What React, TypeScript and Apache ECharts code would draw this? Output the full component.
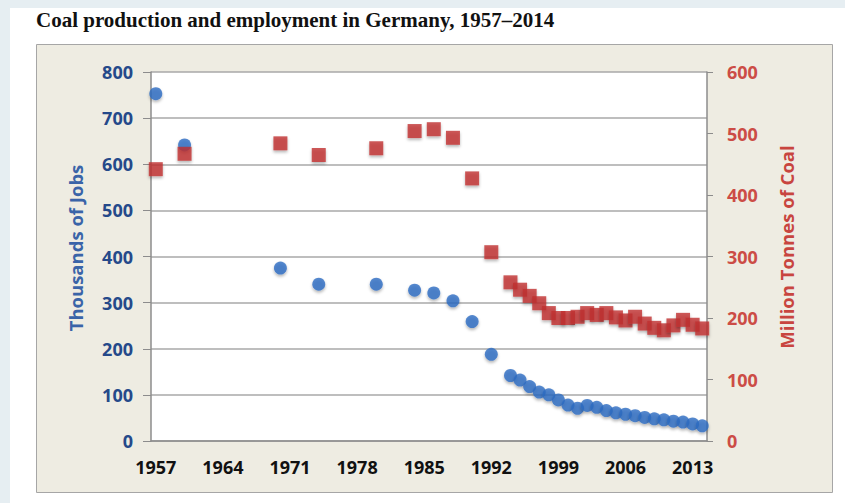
import React, { useEffect, useRef } from "react";
import * as echarts from "echarts";

const firstYear = 1957;
const lastYear = 2014;
const yearLabels: string[] = [];
for (let y = firstYear; y <= lastYear; y++) yearLabels.push(String(y));

const jobYears = [1957, 1960, 1970, 1974, 1980, 1984, 1986, 1988, 1990, 1992, 1994, 1995, 1996, 1997, 1998, 1999, 2000, 2001, 2002, 2003, 2004, 2005, 2006, 2007, 2008, 2009, 2010, 2011, 2012, 2013, 2014];
const jobsThousands = [753, 642, 375, 340, 340, 327, 321, 304, 259, 188, 142, 132, 118, 106, 100, 89, 78, 71, 77, 73, 66, 61, 58, 55, 51, 48, 46, 43, 41, 37, 33];

const coalYears = [1957, 1960, 1970, 1974, 1980, 1984, 1986, 1988, 1990, 1992, 1994, 1995, 1996, 1997, 1998, 1999, 2000, 2001, 2002, 2003, 2004, 2005, 2006, 2007, 2008, 2009, 2010, 2011, 2012, 2013, 2014];
const coalMillionTonnes = [442, 467, 484, 465, 476, 504, 507, 493, 427, 307, 258, 246, 236, 224, 208, 200, 200, 202, 208, 205, 208, 201, 196, 202, 191, 184, 180, 188, 197, 189, 183];

const titleText = "Coal production and employment in Germany, 1957\u20132014";
const leftAxisTitle = "Thousands of Jobs";
const rightAxisTitle = "Million Tonnes of Coal";

export default function App() {
  const ref = useRef<HTMLDivElement>(null);
  useEffect(() => {
    if (!ref.current) return;
    const chart = echarts.init(ref.current, null, { renderer: "svg" });
    const font = "'Open Sans', sans-serif";
    const jobsData = jobYears.map((y, i) => [String(y), jobsThousands[i]]);
    const coalData = coalYears.map((y, i) => [String(y), coalMillionTonnes[i]]);
    chart.setOption({
      animation: false,
      backgroundColor: "#e6eef2",
      textStyle: { fontFamily: font },
      graphic: [
        { type: "rect", z: -10, shape: { x: 10, y: 8, width: 835, height: 495 }, style: { fill: "#ffffff" } },
        { type: "rect", z: -9, shape: { x: 36.5, y: 44.5, width: 796, height: 448 }, style: { fill: "#eeece2", stroke: "#a6a6a6", lineWidth: 1 } },
        {
          type: "text", z: 5, x: 36, y: 20,
          style: { text: titleText, fontFamily: "'Liberation Serif', serif", fontWeight: "bold", fontSize: 21, fill: "#111", textVerticalAlign: "middle" },
        },
        {
          type: "text", z: 5, x: 75, y: 248, rotation: Math.PI / 2,
          style: { text: leftAxisTitle, fontFamily: font, fontWeight: "bold", fontSize: 18.5, fill: "#3a64a8", textAlign: "center", textVerticalAlign: "middle" },
        },
        {
          type: "text", z: 5, x: 786, y: 247, rotation: Math.PI / 2,
          style: { text: rightAxisTitle, fontFamily: font, fontWeight: "bold", fontSize: 18.5, fill: "#c8453f", textAlign: "center", textVerticalAlign: "middle" },
        },
      ],
      grid: { left: 151, right: 138, top: 72, bottom: 62, show: true, backgroundColor: "#ffffff", borderWidth: 0 },
      xAxis: {
        type: "category",
        data: yearLabels,
        boundaryGap: true,
        axisLine: { lineStyle: { color: "#8c8c8c", width: 1.5 } },
        axisTick: { interval: 0, length: 5, lineStyle: { color: "#7a7a7a" } },
        axisLabel: { interval: 6, margin: 17, color: "#111", fontWeight: "bold", fontSize: 18, fontFamily: font },
        splitLine: { show: false },
      },
      yAxis: [
        {
          type: "value", min: 0, max: 800, interval: 100, position: "left",
          axisLine: { show: true, lineStyle: { color: "#8c8c8c", width: 1.5 } },
          axisTick: { show: true, length: 8, lineStyle: { color: "#8c8c8c" } },
          axisLabel: { margin: 18, color: "#25498a", fontWeight: "bold", fontSize: 18, fontFamily: font },
          splitLine: { show: true, lineStyle: { color: "#a8a8a8", width: 1.5 } },
        },
        {
          type: "value", min: 0, max: 600, interval: 100, position: "right",
          axisLine: { show: true, lineStyle: { color: "#8c8c8c", width: 1.5 } },
          axisTick: { show: true, length: 6, lineStyle: { color: "#8c8c8c" } },
          axisLabel: { margin: 20, color: "#cc4c46", fontWeight: "bold", fontSize: 18, fontFamily: font },
          splitLine: { show: false },
        },
      ],
      series: [
        {
          name: "Jobs", type: "scatter", xAxisIndex: 0, yAxisIndex: 0, symbol: "circle", symbolSize: 13,
          data: jobsData,
          itemStyle: { color: "#2d6cc2", shadowBlur: 3, shadowColor: "rgba(0,0,0,0.35)", shadowOffsetY: 2 },
        },
        {
          name: "Coal", type: "scatter", xAxisIndex: 0, yAxisIndex: 1, symbol: "rect", symbolSize: 14,
          data: coalData,
          itemStyle: { color: "#c0302f", shadowBlur: 3, shadowColor: "rgba(0,0,0,0.35)", shadowOffsetY: 2 },
        },
      ],
    });
    return () => chart.dispose();
  }, []);
  return <div ref={ref} style={{ position: "absolute", left: 0, top: 0, width: 845, height: 503 }} />;
}
